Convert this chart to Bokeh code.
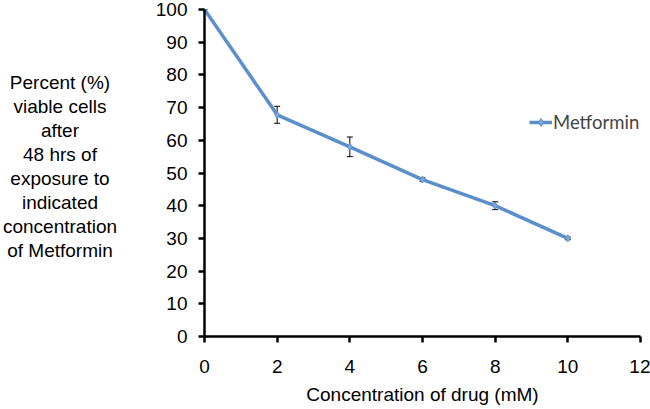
from bokeh.plotting import figure
from bokeh.models import Range1d, Whisker, ColumnDataSource, Legend, LegendItem, TeeHead, Div
from bokeh.layouts import row
from bokeh.embed import file_html
from bokeh.resources import INLINE

conc = [0, 2, 4, 6, 8, 10]
viable = [100, 67.8, 58, 48, 40, 30]
err = [0, 2.6, 3.0, 0.5, 1.2, 0.4]
x_ticks = [0, 2, 4, 6, 8, 10, 12]
y_ticks = [0, 10, 20, 30, 40, 50, 60, 70, 80, 90, 100]
y_label_lines = ["Percent (%)", "viable cells", "after", "48 hrs of", "exposure to",
                 "indicated", "concentration", "of Metformin"]
series_name = "Metformin"
x_title = "Concentration of drug (mM)"

lower = [v - e for v, e in zip(viable, err)]
upper = [v + e for v, e in zip(viable, err)]
src = ColumnDataSource(dict(x=conc, y=viable, lo=lower, hi=upper))

p = figure(width=530, height=409, output_backend="svg", toolbar_location=None,
           x_range=Range1d(0, 12), y_range=Range1d(0, 100),
           min_border_left=84, min_border_right=10, min_border_bottom=73, min_border_top=9)
p.outline_line_color = None
p.grid.grid_line_color = None
p.background_fill_color = "white"

font = "Liberation Sans"
for ax in (p.xaxis[0], p.yaxis[0]):
    ax.axis_line_width = 2.5
    ax.axis_line_color = "black"
    ax.major_tick_line_width = 2.5
    ax.major_tick_line_color = "black"
    ax.major_tick_out = 6
    ax.major_tick_in = 0
    ax.minor_tick_out = 0
    ax.minor_tick_in = 0
    ax.major_label_text_font = font
    ax.major_label_text_font_size = "19px"
    ax.major_label_text_color = "black"
    ax.axis_label_text_font = font
    ax.axis_label_text_font_size = "19px"
    ax.axis_label_text_font_style = "normal"
    ax.axis_label_text_color = "black"

p.xaxis.ticker = x_ticks
p.yaxis.ticker = y_ticks
p.xaxis.major_label_standoff = 17
p.yaxis.major_label_standoff = 11
p.xaxis.axis_label = x_title
p.xaxis.axis_label_standoff = 8

w = Whisker(source=src, base="x", lower="lo", upper="hi", line_color="black", line_width=1,
            upper_head=TeeHead(size=6, line_color="black", line_width=1),
            lower_head=TeeHead(size=6, line_color="black", line_width=1))
p.add_layout(w)

col = "#5B8FCB"
ln = p.line("x", "y", source=src, line_color=col, line_width=3.5)
mk = p.scatter("x", "y", source=src, marker="diamond", size=7, fill_color="#7FA9DA",
               line_color=col)

leg = Legend(items=[LegendItem(label=series_name, renderers=[ln, mk])],
             location=(325, 203), border_line_color=None, background_fill_alpha=0,
             label_text_font="Lato", label_text_font_size="18.5px", glyph_width=23,
             padding=0, margin=0, label_standoff=1, spacing=0)
p.add_layout(leg)

ylab = Div(text="<br>".join(y_label_lines), width=120, height=409, margin=0,
           styles={"text-align": "center", "font-family": "'Liberation Sans', Arial, sans-serif",
                   "font-size": "19px", "line-height": "24px", "color": "black",
                   "padding-top": "71px", "box-sizing": "border-box", "width": "120px",
                   "white-space": "nowrap"})

layout = row(ylab, p, spacing=0)
open("out.html", "w").write(file_html(layout, INLINE))
